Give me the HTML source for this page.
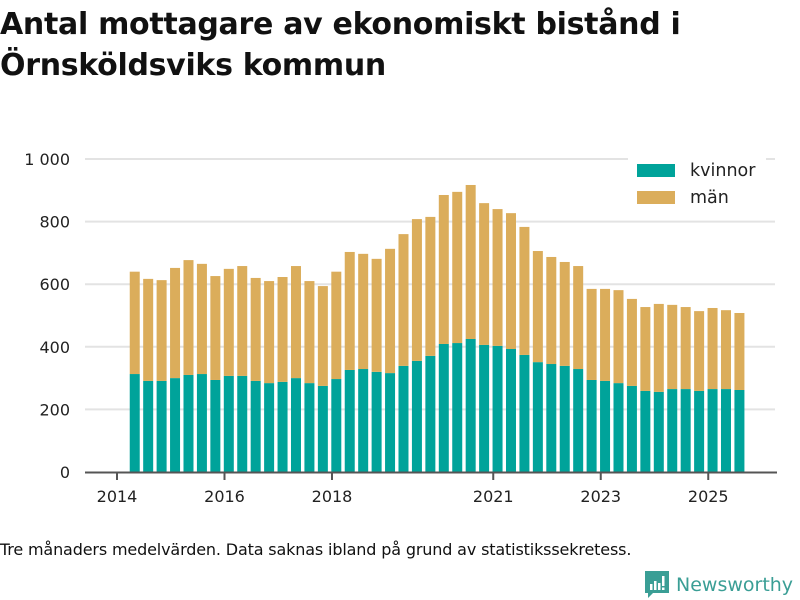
<!DOCTYPE html>
<html><head><meta charset="utf-8"><style>
body{margin:0;width:800px;height:600px;background:#fff;font-family:"Liberation Sans","DejaVu Sans",sans-serif;overflow:hidden;position:relative}
h1{position:absolute;left:0;top:4px;margin:0;font-size:30px;line-height:41px;font-weight:bold;color:#111;font-family:"DejaVu Sans","Liberation Sans",sans-serif;letter-spacing:-0.3px}
.note{position:absolute;left:0;top:540px;font-size:16px;color:#111;font-family:"DejaVu Sans",sans-serif;letter-spacing:-0.15px}
.logo{position:absolute;left:645px;top:571px;display:flex;align-items:center;gap:7px;color:#3a9e95;font-size:19px;font-family:"DejaVu Sans",sans-serif}
</style></head><body>
<h1>Antal mottagare av ekonomiskt bistånd i<br>Örnsköldsviks kommun</h1>
<svg id="chart" width="800" height="600" style="position:absolute;left:0;top:0"></svg>
<div class="note">Tre månaders medelvärden. Data saknas ibland på grund av statistikssekretess.</div>
<div class="logo"><svg width="24" height="28" viewBox="0 0 24 28"><path d="M0 0H24V22H8L3 27V22H0Z" fill="#3a9e95"/><rect x="5" y="13" width="2.5" height="6" fill="#fff"/><rect x="9" y="10" width="2.5" height="9" fill="#fff"/><rect x="13" y="12" width="2.5" height="7" fill="#fff"/><rect x="17" y="5" width="2.5" height="10" fill="#fff"/><rect x="17" y="16.5" width="2.5" height="2.5" fill="#fff"/></svg><span>Newsworthy</span></div>
<script>
const startYear = 2014.33;
const step = 0.25;
const kvinnor = [313,291,291,300,310,313,294,307,307,291,284,288,300,284,275,297,326,329,320,316,339,355,371,409,412,425,406,403,393,374,351,345,339,329,294,291,284,275,259,256,265,265,259,265,265,262];
const totals = [640,617,613,652,677,665,626,649,658,620,610,623,658,610,594,640,703,697,681,713,760,808,815,885,895,917,859,840,827,783,706,687,671,658,585,585,581,553,527,537,534,527,514,524,517,508];
const man = totals.map((t,i)=>t-kvinnor[i]);
const yTicks = [0,200,400,600,800,1000];
const yTickLabels = ["0","200","400","600","800","1 000"];
const xTicks = [2014,2016,2018,2021,2023,2025];
const NS="http://www.w3.org/2000/svg";
const svg=document.getElementById('chart');
const y=v=>472-v*0.313;
const x=t=>117+(t-2014)*53.75;
function mk(tag,attrs){const e=document.createElementNS(NS,tag);for(const k in attrs)e.setAttribute(k,attrs[k]);svg.appendChild(e);return e;}
yTicks.forEach((v,i)=>{
  if(v>0){const g=mk('line',{x1:85,x2:775,y1:y(v),y2:y(v),stroke:'#e3e3e3','stroke-width':2});
  
  }
  const t=mk('text',{x:70,y:y(v)+6,'text-anchor':'end','font-size':16,fill:'#222','font-family':'DejaVu Sans, sans-serif'});
  t.textContent=yTickLabels[i];
  
  
});
kvinnor.forEach((k,i)=>{
  const cx=x(startYear+i*step), w=10;
  const r1=mk('rect',{x:cx-w/2,y:y(k),width:w,height:y(0)-y(k),fill:'#00a39a'});
  
  
  const r2=mk('rect',{x:cx-w/2,y:y(k+man[i]),width:w,height:y(k)-y(k+man[i]),fill:'#dbad5b'});
  
  
});
const ax=mk('line',{x1:85,x2:777,y1:472.5,y2:472.5,stroke:'#555','stroke-width':2});


xTicks.forEach(yr=>{
  const tk=mk('line',{x1:x(yr),x2:x(yr),y1:472,y2:480,stroke:'#555','stroke-width':2});
  
  
  const t=mk('text',{x:x(yr),y:502,'text-anchor':'middle','font-size':16,fill:'#222','font-family':'DejaVu Sans, sans-serif'});
  t.textContent=yr;
  
  
});
const lb=mk('rect',{x:628,y:155,width:138,height:60,fill:'#fff'});


[['kvinnor','#00a39a',170],['män','#dbad5b',197]].forEach(([n,c,yy])=>{
  const s=mk('rect',{x:637,y:yy-6,width:38,height:13,fill:c});
  
  
  const t=mk('text',{x:690,y:yy+6,'font-size':17.5,fill:'#222','font-family':'DejaVu Sans, sans-serif'});
  t.textContent=n;
  
  
});
</script>
</body></html>
